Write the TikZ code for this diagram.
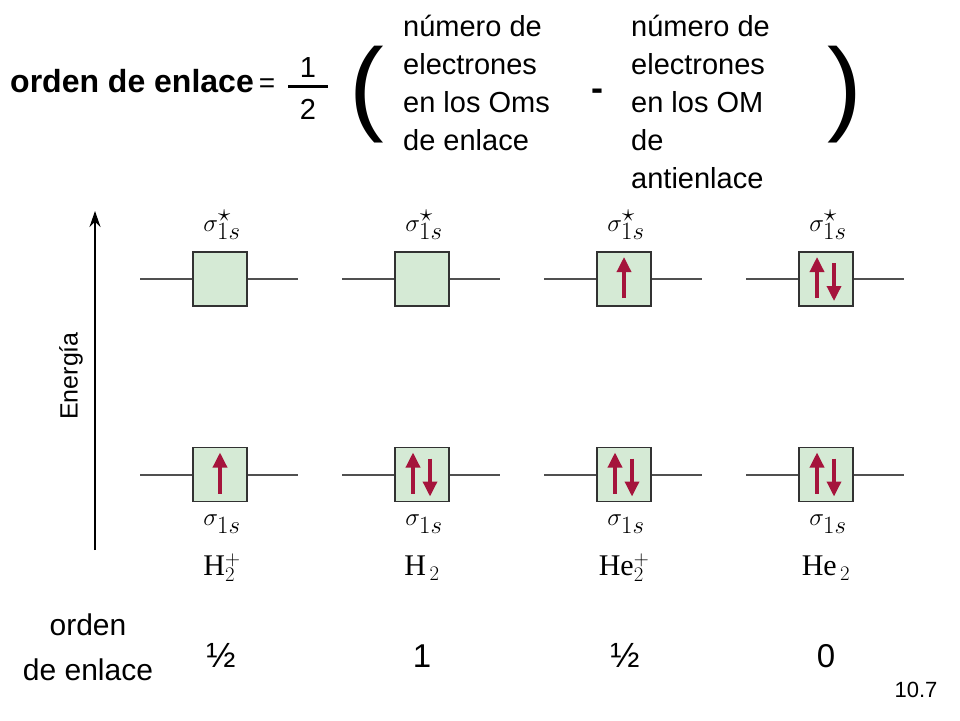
\documentclass[tikz,border=0pt]{standalone}
\usepackage{fontspec}
\setmainfont{Liberation Sans}
\newfontfamily\serifmol{Liberation Serif}
\usetikzlibrary{arrows.meta,calc}
\definecolor{boxfill}{RGB}{213,234,213}
\definecolor{boxline}{RGB}{50,50,50}
\definecolor{levelc}{RGB}{80,80,80}
\definecolor{elec}{RGB}{165,20,60}
\tikzset{
  mobox/.style={draw=boxline,fill=boxfill,line width=1.6pt,minimum size=54pt,inner sep=0pt},
  levelline/.style={draw=levelc,line width=2pt},
  elecarrow/.style={draw=elec,line width=3.4pt,-{Triangle[length=15pt,width=14pt]}},
  txt/.style={inner sep=0pt,font=\fontsize{29}{38}\selectfont},
  orblab/.style={inner sep=0pt,font=\fontsize{34}{38}\selectfont},
  mollab/.style={inner sep=0pt,font=\serifmol\fontsize{30}{34}\selectfont},
  botlab/.style={inner sep=0pt,font=\fontsize{30}{34}\selectfont},
}
\begin{document}
\begin{tikzpicture}[x=1pt,y=-1pt]
\useasboundingbox[fill=white] (0,0) rectangle (960,720);
% formula
\node[txt,anchor=base west,font=\bfseries\fontsize{32}{38}\selectfont] (ol) at (10,92) {orden de enlace};
\node[txt,anchor=base west,font=\fontsize{28}{38}\selectfont] (eq) at (ol.base east) {\,=};
\node[txt,anchor=base] (one) at (308,77) {1};
\node[txt,anchor=base] (two) at (308,119) {2};
\coordinate (barl) at (288,86);
\coordinate (barr) at (328,86);
\draw[line width=3pt] (barl) -- (barr);
\node[inner sep=0pt,anchor=center,font=\fontsize{104}{104}\selectfont] (lp) at (367,95) {(};
\node[inner sep=0pt,anchor=center,font=\fontsize{104}{104}\selectfont] (rp) at (845,95) {)};
\node[txt,anchor=base,font=\bfseries\fontsize{36}{38}\selectfont] (minus) at (597,100) {-};
\node[txt,anchor=base west] (a1) at (403,36) {número de};
\node[txt,anchor=base west] (a2) at (403,74) {electrones};
\node[txt,anchor=base west] (a3) at (403,112) {en los Oms};
\node[txt,anchor=base west] (a4) at (403,150) {de enlace};
\node[txt,anchor=base west] (b1) at (631,36) {número de};
\node[txt,anchor=base west] (b2) at (631,74) {electrones};
\node[txt,anchor=base west] (b3) at (631,112) {en los OM};
\node[txt,anchor=base west] (b4) at (631,150) {de};
\node[txt,anchor=base west] (b5) at (631,188) {antienlace};
% energy axis
\coordinate (ebot) at (95,550);
\coordinate (etop) at (95,211);
\draw[line width=2pt,-{Stealth[length=16pt,width=11pt]}] (ebot) -- (etop);
\node[inner sep=0pt,rotate=90,font=\fontsize{25}{28}\selectfont] (en) at (71,376) {Energía};
% levels
\foreach \i/\x in {1/220,2/422,3/624,4/826} {
  \node[mobox] (u\i) at (\x,279) {};
  \node[mobox] (d\i) at (\x,474.5) {};
  \coordinate (ul\i) at (\x-80,279);
  \coordinate (ur\i) at (\x+78,279);
  \coordinate (dl\i) at (\x-80,474.5);
  \coordinate (dr\i) at (\x+78,474.5);
  \draw[levelline] (ul\i) -- (u\i.west);
  \draw[levelline] (u\i.east) -- (ur\i);
  \draw[levelline] (dl\i) -- (d\i.west);
  \draw[levelline] (d\i.east) -- (dr\i);
  \node[orblab] (su\i) at (\x+2,225) {$\sigma^{\textstyle\star}_{1s}$};
  \node[orblab] (sd\i) at (\x+2,524) {$\sigma_{1s}$};
}
% electrons
\draw[elecarrow] ($(u3)+(0,19)$) -- ($(u3)+(0,-22)$);
\draw[elecarrow] ($(u4)+(-9,19)$) -- ($(u4)+(-9,-22)$);
\draw[elecarrow] ($(u4)+(8,-16)$) -- ($(u4)+(8,22)$);
\draw[elecarrow] ($(d1)+(0,19)$) -- ($(d1)+(0,-22)$);
\foreach \i in {2,3,4} {
  \draw[elecarrow] ($(d\i)+(-9,19)$) -- ($(d\i)+(-9,-22)$);
  \draw[elecarrow] ($(d\i)+(8,-16)$) -- ($(d\i)+(8,22)$);
}
% molecules
\node[mollab] (m1) at (222,568) {H$^{+}_{2}$};
\node[mollab] (m2) at (422,568) {H$_{\,2}$};
\node[mollab] (m3) at (624,568) {He$^{+}_{2}$};
\node[mollab] (m4) at (826,568) {He$_{\,2}$};
% bond orders
\node[botlab,anchor=base] (o1) at (88,635) {orden};
\node[botlab,anchor=base] (o2) at (88,680) {de enlace};
\node[botlab,font=\fontsize{35}{36}\selectfont,anchor=base] (v1) at (221,667) {½};
\node[botlab,font=\fontsize{33}{36}\selectfont,anchor=base] (v2) at (422,667) {1};
\node[botlab,font=\fontsize{35}{36}\selectfont,anchor=base] (v3) at (625,667) {½};
\node[botlab,font=\fontsize{33}{36}\selectfont,anchor=base] (v4) at (826,667) {0};
\node[inner sep=0pt,font=\fontsize{22}{24}\selectfont] (fig) at (916,690) {10.7};
\end{tikzpicture}
\end{document}
